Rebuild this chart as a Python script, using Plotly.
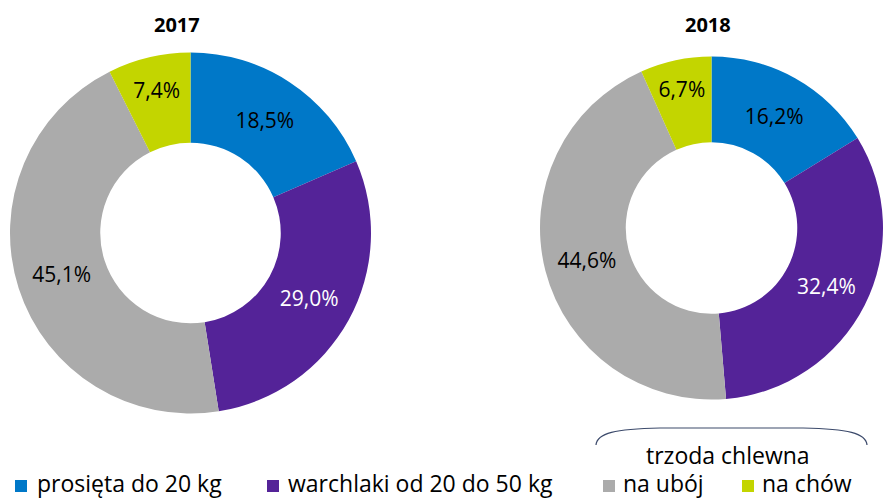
import plotly.graph_objects as go

W, H = 883, 499

categories = ["prosięta do 20 kg", "warchlaki od 20 do 50 kg", "na ubój", "na chów"]
years = ["2017", "2018"]
values_2017 = [18.5, 29.0, 45.1, 7.4]
values_2018 = [16.2, 32.4, 44.6, 6.7]
colors = ["#0078C8", "#542398", "#ABABAB", "#C3D500"]
label_colors = ["#000000", "#FFFFFF", "#000000", "#000000"]
group_label = "trzoda chlewna"

FONT = "Open Sans"


def px_x(x):
    return x / W


def px_y(y):
    return 1 - y / H


def fmt(v):
    return f"{v:.1f}".replace(".", ",") + "%"


fig = go.Figure()

domains = [
    dict(x=[px_x(10), px_x(371)], y=[px_y(413.5), px_y(52.5)]),
    dict(x=[px_x(540), 1.0], y=[px_y(403.5), px_y(52.5)]),
]

for yr, vals, dom in zip(years, [values_2017, values_2018], domains):
    fig.add_trace(go.Pie(
        labels=categories,
        values=vals,
        text=[fmt(v) for v in vals],
        textinfo="text",
        textposition="inside",
        insidetextorientation="horizontal",
        insidetextfont=dict(family=FONT, size=21, color=label_colors),
        hole=0.5,
        sort=False,
        direction="clockwise",
        rotation=0,
        marker=dict(colors=colors, line=dict(width=0)),
        domain=dom,
        name=yr,
        hoverinfo="label+text",
        showlegend=False,
    ))

annotations = [
    dict(text="<b>2017</b>", x=px_x(176.5), y=px_y(24.5), xref="paper", yref="paper",
         showarrow=False, font=dict(family=FONT, size=20, color="#000000"),
         xanchor="center", yanchor="middle"),
    dict(text="<b>2018</b>", x=px_x(708), y=px_y(24.5), xref="paper", yref="paper",
         showarrow=False, font=dict(family=FONT, size=20, color="#000000"),
         xanchor="center", yanchor="middle"),
    dict(text=group_label, x=px_x(727.5), y=px_y(455), xref="paper", yref="paper",
         showarrow=False, font=dict(family=FONT, size=23, color="#000000"),
         xanchor="center", yanchor="middle"),
]

shapes = []

# legend (manual, so the spacing matches the reference)
square_left = [15, 267, 603, 742]
text_left = [35, 286, 621, 760]
for cat, col, sx, tx in zip(categories, colors, square_left, text_left):
    shapes.append(dict(type="rect", xref="paper", yref="paper",
                       x0=px_x(sx), x1=px_x(sx + 12), y0=px_y(492), y1=px_y(480),
                       fillcolor=col, line=dict(width=0)))
    annotations.append(dict(text=cat, x=px_x(tx), y=px_y(483), xref="paper", yref="paper",
                            showarrow=False, font=dict(family=FONT, size=23, color="#000000"),
                            xanchor="left", yanchor="middle"))

# bracket above "trzoda chlewna"
pts = [(596, 445), (597, 433), (615, 429), (660, 428), (803, 428), (848, 429), (866, 433), (867, 445)]
P = [(px_x(a), px_y(b)) for a, b in pts]
path = (f"M {P[0][0]},{P[0][1]} C {P[1][0]},{P[1][1]} {P[2][0]},{P[2][1]} {P[3][0]},{P[3][1]} "
        f"L {P[4][0]},{P[4][1]} C {P[5][0]},{P[5][1]} {P[6][0]},{P[6][1]} {P[7][0]},{P[7][1]}")
shapes.append(dict(type="path", path=path, xref="paper", yref="paper",
                   line=dict(color="#3C4A6B", width=1.2)))

fig.update_layout(
    width=W, height=H,
    margin=dict(l=0, r=0, t=0, b=0, autoexpand=False),
    paper_bgcolor="white",
    plot_bgcolor="white",
    font=dict(family=FONT, color="#000000"),
    annotations=annotations,
    shapes=shapes,
    showlegend=False,
)

fig.write_html("out.html", config={"displayModeBar": False},
               post_script="document.body.style.margin='0';")
